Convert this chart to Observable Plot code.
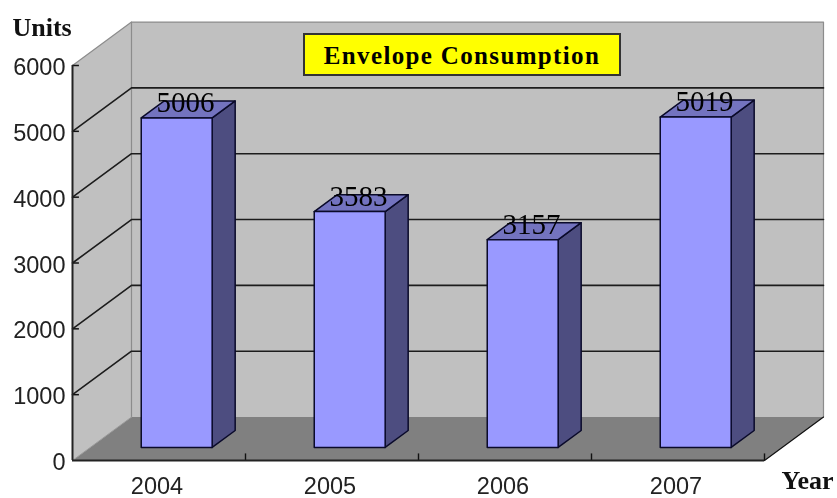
<!DOCTYPE html>
<html>
<head>
<meta charset="utf-8">
<script src="https://cdn.jsdelivr.net/npm/d3@7"></script>
<script src="https://cdn.jsdelivr.net/npm/@observablehq/plot@0.6"></script>
<style>
  html, body { margin: 0; padding: 0; background: #fff; overflow: hidden; }
  #wrap { position: relative; width: 837px; height: 498px; overflow: hidden; }
  #wrap svg { display: block; filter: blur(0.45px); }
  #title {
    position: absolute; left: 303px; top: 33px; width: 314px; height: 39px;
    background: #ffff00; border: 2px solid #333;
    font: bold 25px "Liberation Serif", serif; letter-spacing: 1.35px;
    color: #000; text-align: center; line-height: 41px; white-space: nowrap;
  }
</style>
</head>
<body>
<div id="wrap"><div id="title">Envelope Consumption</div></div>
<script>
const years = ["2004", "2005", "2006", "2007"];
const units = [5006, 3583, 3157, 5019];
const yTicks = [0, 1000, 2000, 3000, 4000, 5000, 6000];
const labelLift = [16, 15, 15, 16];

// Oblique projection, expressed in data units: depth 0 is the front of the box, 1 the back wall.
const depthX = 59 / 173, depthY = 660;
const P = (x, y, d = 0) => ({x: x + d * depthX, y: y + d * depthY});
const barFront = 0.3, barBack = 0.69, barHalf = 0.205;

const poly = (pts, o) => Plot.line([...pts, pts[0]], {x: "x", y: "y", curve: "linear", stroke: "none", ...o});
const path = (pts, o) => Plot.line(pts, {x: "x", y: "y", curve: "linear", ...o});

const box = [
  poly([P(0, 0, 1), P(4, 0, 1), P(4, 6000, 1), P(0, 6000, 1)], {fill: "#c0c0c0"}),
  poly([P(0, 0, 0), P(0, 6000, 0), P(0, 6000, 1), P(0, 0, 1)], {fill: "#c0c0c0"}),
  poly([P(0, 0, 0), P(4, 0, 0), P(4, 0, 1), P(0, 0, 1)], {fill: "#808080"}),
  path([P(0, 0, 1), P(0, 6000, 1), P(4, 6000, 1), P(4, 0, 1)], {stroke: "#8c8c8c", strokeWidth: 1.2}),
  path([P(0, 6000, 0), P(0, 6000, 1)], {stroke: "#8c8c8c", strokeWidth: 1.2}),
  path([P(0, 0, 0), P(0, 0, 1)], {stroke: "#9a9a9a", strokeWidth: 1}),
  path([P(4, 0, 0), P(4, 0, 1)], {stroke: "#111", strokeWidth: 1.2})
];

const grid = yTicks.filter(v => v > 0 && v < 6000).map(v =>
  path([P(0, v, 0), P(0, v, 1), P(4, v, 1)], {stroke: "#1c1c1c", strokeWidth: 1.6})
);

const bars = units.flatMap((v, i) => {
  const l = i + 0.5 - barHalf, r = i + 0.5 + barHalf;
  const st = {stroke: "#0a0a2a", strokeWidth: 1.5, strokeLinejoin: "round"};
  return [
    poly([P(r, 0, barFront), P(r, 0, barBack), P(r, v, barBack), P(r, v, barFront)], {fill: "#4d4d80", ...st}),
    poly([P(l, v, barFront), P(r, v, barFront), P(r, v, barBack), P(l, v, barBack)], {fill: "#7373bf", ...st}),
    poly([P(l, 0, barFront), P(r, 0, barFront), P(r, v, barFront), P(l, v, barFront)], {fill: "#9999ff", ...st})
  ];
});

const labels = units.map((v, i) => {
  const p = P(i + 0.5, v, 0.45);
  return Plot.text([{...p, t: String(v)}], {
    x: "x", y: "y", text: "t", dy: -labelLift[i] + 7,
    fontFamily: "Liberation Serif", fontSize: 29, fill: "#000", lineAnchor: "middle"
  });
});

const chart = Plot.plot({
  width: 837, height: 498,
  marginLeft: 72, marginRight: 73, marginTop: 65, marginBottom: 38,
  x: {domain: [0, 4]},
  y: {domain: [0, 6000]},
  style: {background: "transparent", overflow: "hidden"},
  marks: [
    ...box,
    ...grid,
    Plot.ruleY(yTicks.filter(v => v > 0), {x1: 0, x2: 0.04, stroke: "#111", strokeWidth: 1.5}),
    Plot.ruleX([1, 2, 3, 4], {y1: 0, y2: 100, stroke: "#111", strokeWidth: 1.4}),
    Plot.ruleX([0], {y1: 0, y2: 6000, stroke: "#222", strokeWidth: 2}),
    Plot.ruleY([0], {x1: 0, x2: 4, stroke: "#222", strokeWidth: 2}),
    ...bars,
    ...labels,
    Plot.axisY({ticks: yTicks, tickSize: 0, tickPadding: 7, tickFormat: d => String(d),
      fontSize: 23.5, fontFamily: "Liberation Sans", color: "#222", label: null, dy: 2}),
    Plot.axisX({ticks: [0.5, 1.5, 2.5, 3.5], tickSize: 0, tickPadding: 17, tickFormat: d => years[d - 0.5],
      fontSize: 23.5, fontFamily: "Liberation Sans", color: "#222", label: null, dx: -2}),
    Plot.text(["Units"], {frameAnchor: "top-left", dx: -60, dy: -48, textAnchor: "start",
      fontFamily: "Liberation Serif", fontWeight: "bold", fontSize: 26, fill: "#111"}),
    Plot.text(["Year"], {frameAnchor: "bottom-right", dx: 17, dy: 28, textAnchor: "start",
      fontFamily: "Liberation Serif", fontWeight: "bold", fontSize: 26, fill: "#111"})
  ]
});
document.getElementById("wrap").prepend(chart);
</script>
</body>
</html>
